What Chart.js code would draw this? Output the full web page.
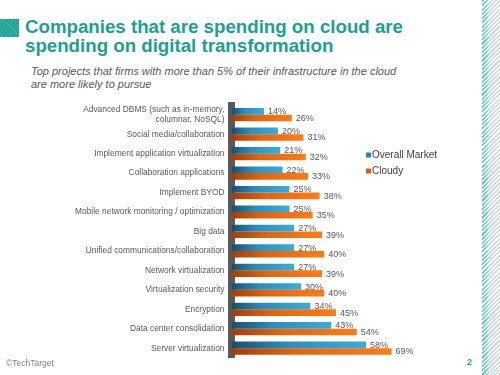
<!DOCTYPE html>
<html>
<head>
<meta charset="utf-8">
<script src="https://cdn.jsdelivr.net/npm/chart.js@4"></script>
<style>
  html, body { margin: 0; padding: 0; background: #fff; }
  body { width: 500px; height: 375px; position: relative; overflow: hidden; font-family: "Liberation Sans", Arial, sans-serif; }
  #chart { position: absolute; left: 0; top: 0; }
  .abs { position: absolute; white-space: nowrap; }
  #mark { left: 0; top: 19px; width: 19px; height: 18px; background: repeating-linear-gradient(45deg, #23a596 0 2px, #3ab3a5 2px 3px); }
  #stripe { left: 482px; top: 0; width: 18px; height: 375px;
    background: repeating-linear-gradient(-45deg, rgba(255,255,255,0) 0 1.5px, rgba(255,255,255,0.85) 1.5px 3px),
                linear-gradient(90deg, #5cc3c3 0, #7fd0d0 5px, #c9d8d8 7px, #d6dede 18px); }
  #title { left: 25px; top: 17px; font-size: 18.7px; line-height: 19px; font-weight: bold; color: #1ba190; }
  #subtitle { left: 31px; top: 65px; font-size: 11px; line-height: 12.5px; font-style: italic; color: #595959; }
  #copy { left: 6px; top: 358px; font-size: 8.5px; line-height: 10px; color: #7f7f7f; }
  #page { left: 467px; top: 357px; font-size: 9px; line-height: 10px; color: #1ba190; font-weight: bold; }
</style>
</head>
<body>
<div class="abs" id="mark"></div>
<div class="abs" id="stripe"></div>
<div class="abs" id="title">Companies that are spending on cloud are<br>spending on digital transformation</div>
<div class="abs" id="subtitle">Top projects that firms with more than 5% of their infrastructure in the cloud<br>are more likely to pursue</div>
<canvas id="chart" width="500" height="375"></canvas>
<div class="abs" id="copy">©TechTarget</div>
<div class="abs" id="page">2</div>
<script>
const projects = [
  ["Advanced DBMS (such as in-memory,", "columnar, NoSQL)"],
  "Social media/collaboration",
  "Implement application virtualization",
  "Collaboration applications",
  "Implement BYOD",
  "Mobile network monitoring / optimization",
  "Big data",
  "Unified communications/collaboration",
  "Network virtualization",
  "Virtualization security",
  "Encryption",
  "Data center consolidation",
  "Server virtualization"
];
const overallMarket = [14, 20, 21, 22, 25, 25, 27, 27, 27, 30, 34, 43, 58];
const cloudy = [26, 31, 32, 33, 38, 35, 39, 40, 39, 40, 45, 54, 69];
const seriesNames = ["Overall Market", "Cloudy"];

const FONT = '"Liberation Sans", Arial, sans-serif';
const GRAY = '#595959';

// horizontal gradient per bar, dark at the axis and bright at the tip
function barGradient(stops, solid) {
  return (ctx) => {
    const chart = ctx.chart;
    if (!chart.chartArea || ctx.raw === undefined) return solid;
    const x = chart.scales.x;
    const x0 = x.getPixelForValue(0);
    const x1 = x.getPixelForValue(ctx.raw);
    const g = chart.ctx.createLinearGradient(x0, 0, x1, 0);
    g.addColorStop(0, stops[0]);
    g.addColorStop(0.4, stops[1]);
    g.addColorStop(1, stops[2]);
    return g;
  };
}

const valueLabels = {
  id: 'valueLabels',
  afterDatasetsDraw(chart) {
    const c = chart.ctx;
    c.save();
    c.font = '9px ' + FONT;
    c.fillStyle = GRAY;
    c.textAlign = 'left';
    c.textBaseline = 'middle';
    chart.data.datasets.forEach((ds, i) => {
      chart.getDatasetMeta(i).data.forEach((bar, j) => {
        c.fillText(ds.data[j] + '%', bar.x + 4, bar.y + 0.5);
      });
    });
    c.restore();
  }
};

const sideLegend = {
  id: 'sideLegend',
  afterDraw(chart) {
    const c = chart.ctx;
    c.save();
    c.font = '10px ' + FONT;
    c.textBaseline = 'middle';
    chart.data.datasets.forEach((ds, i) => {
      const y = 155 + i * 16;
      c.fillStyle = ds.legendColor;
      c.fillRect(366, y - 2.5, 5, 5);
      c.fillStyle = '#404040';
      c.fillText(ds.label, 372, y + 0.5);
    });
    c.restore();
  }
};

new Chart(document.getElementById('chart'), {
  type: 'bar',
  data: {
    labels: projects,
    datasets: [{
      label: seriesNames[0],
      data: overallMarket,
      backgroundColor: barGradient(['#164f6d', '#2b8dbb', '#3bacd9'], '#2b8dbb'),
      legendColor: '#2a86b0',
      barPercentage: 1,
      categoryPercentage: 0.68
    }, {
      label: seriesNames[1],
      data: cloudy,
      backgroundColor: barGradient(['#a23e08', '#e2660f', '#ff7b15'], '#e2660f'),
      legendColor: '#d9600f',
      barPercentage: 1,
      categoryPercentage: 0.68
    }]
  },
  options: {
    indexAxis: 'y',
    responsive: false,
    animation: false,
    layout: { padding: { top: 105, bottom: 13, right: 36.5, left: 0 } },
    plugins: {
      legend: { display: false },
      tooltip: { enabled: false }
    },
    scales: {
      x: { display: false, min: 0, max: 100 },
      y: {
        z: 1,
        grid: { display: false, drawTicks: false },
        border: { display: true, color: '#5a5a5a', width: 7 },
        ticks: { color: GRAY, font: { family: FONT, size: 8.4, lineHeight: 1.2 }, padding: 7, autoSkip: false },
        afterFit: (scale) => { scale.width = 231.5; }
      }
    }
  },
  plugins: [valueLabels, sideLegend]
});
</script>
</body>
</html>
